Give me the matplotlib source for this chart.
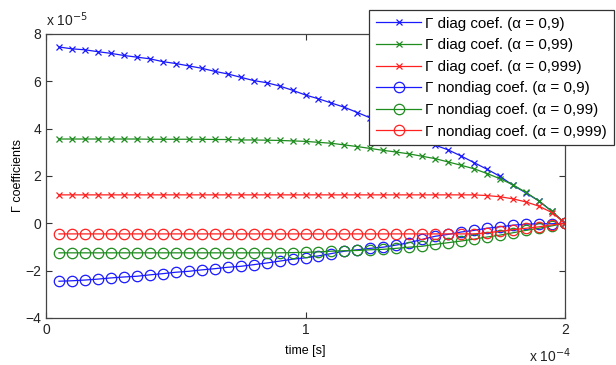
import matplotlib
matplotlib.use('Agg')
import matplotlib.pyplot as plt
import numpy as np

plt.rcParams['font.family'] = ['Liberation Sans', 'DejaVu Sans']

# time samples in units of 1e-4 s, values in units of 1e-5
t = np.linspace(0.05, 2.0, 40)

diag_09 = [7.45, 7.37, 7.33, 7.25, 7.18, 7.09, 7.02, 6.95, 6.83, 6.75,
           6.65, 6.55, 6.42, 6.31, 6.17, 6.03, 5.94, 5.80, 5.62, 5.42,
           5.26, 5.08, 4.90, 4.68, 4.45, 4.22, 3.98, 3.74, 3.50, 3.30,
           3.10, 2.84, 2.56, 2.28, 1.98, 1.60, 1.28, 0.94, 0.50, 0.0]
diag_099 = [3.56, 3.56, 3.56, 3.56, 3.56, 3.56, 3.56, 3.55, 3.55, 3.55,
            3.55, 3.55, 3.54, 3.54, 3.52, 3.52, 3.51, 3.50, 3.48, 3.46,
            3.42, 3.38, 3.31, 3.24, 3.16, 3.08, 3.01, 2.93, 2.83, 2.73,
            2.59, 2.45, 2.30, 2.10, 1.88, 1.62, 1.30, 0.94, 0.50, 0.0]
diag_0999 = [1.20] * 33 + [1.17, 1.12, 1.03, 0.90, 0.72, 0.45, 0.0]

nondiag_09 = [-2.45, -2.43, -2.40, -2.36, -2.31, -2.27, -2.24, -2.18, -2.13, -2.07,
              -2.03, -1.97, -1.92, -1.86, -1.82, -1.75, -1.68, -1.60, -1.52, -1.46,
              -1.38, -1.28, -1.18, -1.12, -1.06, -1.01, -0.92, -0.82, -0.68, -0.55,
              -0.47, -0.37, -0.30, -0.21, -0.15, -0.08, -0.04, -0.02, -0.02, 0.0]
nondiag_099 = [-1.25] * 18 + [-1.24, -1.23, -1.21, -1.18, -1.16, -1.15, -1.12, -1.10,
                              -1.06, -1.01, -0.97, -0.89, -0.82, -0.75, -0.67, -0.58,
                              -0.50, -0.40, -0.30, -0.21, -0.11, 0.0]
nondiag_0999 = [-0.45] * 33 + [-0.40, -0.34, -0.27, -0.21, -0.15, -0.07, 0.0]

labels = ['\u0393 diag coef. (\u03b1 = 0,9)',
          '\u0393 diag coef. (\u03b1 = 0,99)',
          '\u0393 diag coef. (\u03b1 = 0,999)',
          '\u0393 nondiag coef. (\u03b1 = 0,9)',
          '\u0393 nondiag coef. (\u03b1 = 0,99)',
          '\u0393 nondiag coef. (\u03b1 = 0,999)']

blue = '#1a1aff'
green = '#1e8c1e'
red = '#ff2020'

fig = plt.figure(figsize=(6.16, 3.65), dpi=100)
ax = fig.add_axes([0.0747, 0.129, 0.8425, 0.778])

ax.plot(t, diag_09, color=blue, lw=0.9, marker='x', ms=4, mew=0.9, label=labels[0])
ax.plot(t, diag_099, color=green, lw=0.9, marker='x', ms=4, mew=0.9, label=labels[1])
ax.plot(t, diag_0999, color=red, lw=0.9, marker='x', ms=4, mew=0.9, label=labels[2])
ax.plot(t, nondiag_09, color=blue, lw=0.9, marker='o', ms=7.5, mfc='none', mew=0.9, label=labels[3])
ax.plot(t, nondiag_099, color=green, lw=0.9, marker='o', ms=7.5, mfc='none', mew=0.9, label=labels[4])
ax.plot(t, nondiag_0999, color=red, lw=0.9, marker='o', ms=7.5, mfc='none', mew=0.9, label=labels[5])

ax.set_xlim(0, 2)
ax.set_ylim(-4, 8)
ax.set_xticks([0, 1, 2])
ax.set_yticks([-4, -2, 0, 2, 4, 6, 8])
ax.tick_params(direction='in', length=4, top=True, right=True, labelsize=10,
               color='#333333', labelcolor='#222222')
for s in ax.spines.values():
    s.set_color('#444444')
    s.set_linewidth(0.9)

ax.set_xlabel('time [s]', fontsize=9, labelpad=6)
ax.set_ylabel('\u0393 coefficients', fontsize=9, labelpad=1)
fig.text(0.074, 0.93, 'x 10$^{-5}$', fontsize=10, color='#222222')
fig.text(0.858, 0.008, 'x 10$^{-4}$', fontsize=10, color='#222222')

leg = ax.legend(loc='upper left', bbox_to_anchor=(0.599, 0.973),
                bbox_transform=fig.transFigure, fontsize=10.9, frameon=True,
                fancybox=False, framealpha=1, edgecolor='#333333',
                borderaxespad=0, handlelength=3.0, handletextpad=0.25,
                labelspacing=0.5, borderpad=0.45)
leg.get_frame().set_linewidth(0.9)

fig.savefig('out.png', dpi=100)
